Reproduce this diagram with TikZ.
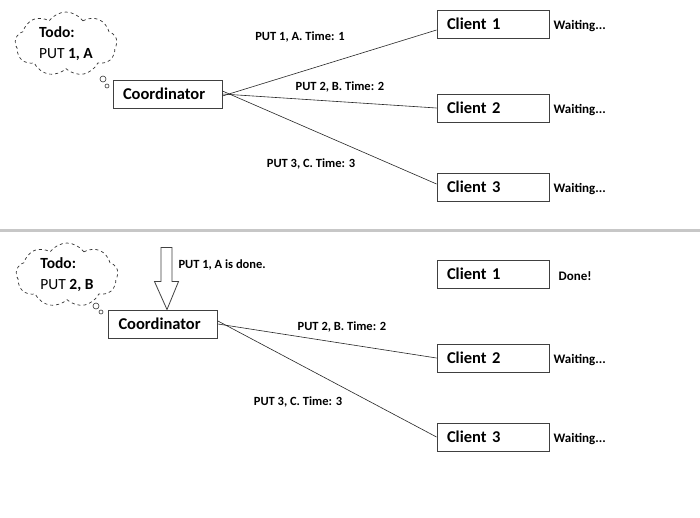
\documentclass[tikz,border=0pt]{standalone}
\usepackage{fontspec}
\setmainfont{Carlito}
\usetikzlibrary{shapes.symbols,positioning}
\begin{document}
\begin{tikzpicture}[x=1pt,y=-1pt,-,draw=black!80]
    \tikzstyle{box}=[draw=black!75,line width=0.9pt,minimum height=28pt,inner xsep=10pt,align=left,font=\fontsize{16.5}{18}\selectfont\bfseries]
    \tikzstyle{client}=[box,text width=92pt]
    \tikzstyle{todo}=[cloud,draw=black!80,dashed,line width=0.7pt,cloud puffs=9,cloud puff arc=110,aspect=1.6,minimum width=102pt,minimum height=64pt,align=left,inner sep=0pt,font=\fontsize{15.5}{21}\selectfont]
    \tikzstyle{bubble}=[circle,draw=black!80,line width=0.6pt,inner sep=0pt]
    \tikzstyle{msg}=[font=\fontsize{12.5}{14}\selectfont\bfseries]
    \tikzstyle{state}=[font=\fontsize{13}{15}\selectfont\bfseries,anchor=west,inner sep=1pt]
    \tikzstyle{link}=[black!85,line width=0.6pt]

    \useasboundingbox (0,0) rectangle (700,517);
    \fill[white] (0,0) rectangle (700,517);

    % Separator between the two steps
    \draw[black!22,line width=3pt] (0,230) -- (700,230);

    % Step 1: coordinator and its todo list
    \node[todo] (todo1) at (66,44) {\textbf{Todo:}\\PUT \textbf{1, A}};
    \node[bubble,minimum size=6pt] (b1) at (103,79) {};
    \node[bubble,minimum size=4pt] (b2) at (107,86) {};
    \node[box,text width=89pt] (coord1) at (167.5,94) {Coordinator};

    % Step 1: clients
    \foreach \n/\y in {1/24,2/108,3/187}
        \node[client] (c1-\n) at (493,\y) {Client \n};
    \foreach \n in {1,2,3}
        \node[state] (s1-\n) at ([xshift=3pt,yshift=-2pt]c1-\n.east) {Waiting...};

    % Step 1: requests
    \draw[link] ([yshift=-2pt]coord1.east) -- ([yshift=-6pt]c1-1.west);
    \draw[link] (coord1.east) -- (c1-2.west);
    \draw[link] ([yshift=3pt]coord1.east) -- ([yshift=3pt]c1-3.west);
    \node[msg] (m1-1) at (300,37) {PUT 1, A. Time: 1};
    \node[msg] (m1-2) at (340,87) {PUT 2, B. Time: 2};
    \node[msg] (m1-3) at (311,164) {PUT 3, C. Time: 3};

    % Step 2: coordinator and its todo list
    \node[todo] (todo2) at (67,275) {\textbf{Todo:}\\PUT \textbf{2, B}};
    \node[bubble,minimum size=6pt] (b3) at (96,306) {};
    \node[bubble,minimum size=4pt] (b4) at (101,312) {};
    \node[box,text width=89pt] (coord2) at (163,324) {Coordinator};

    % Step 2: acknowledgement arrow
    \draw[black!75,line width=0.8pt] ([xshift=4pt]coord2.north) -- ++(-12.5,-28) -- ++(6.5,0)
        -- ++(0,-34) -- ++(11,0) -- ++(0,34) -- ++(6.5,0) -- cycle;
    \node[msg,anchor=west] (ack) at (175,265) {PUT 1, A is done.};

    % Step 2: clients
    \foreach \n/\y in {1/274,2/358,3/437}
        \node[client] (c2-\n) at (493,\y) {Client \n};
    \node[state] (s2-1) at ([xshift=8pt,yshift=-2pt]c2-1.east) {Done!};
    \foreach \n in {2,3}
        \node[state] (s2-\n) at ([xshift=3pt,yshift=-2pt]c2-\n.east) {Waiting...};

    % Step 2: remaining requests
    \draw[link] (coord2.east) -- (c2-2.west);
    \draw[link] ([yshift=3pt]coord2.east) -- (c2-3.west);
    \node[msg] (m2-2) at (342,327) {PUT 2, B. Time: 2};
    \node[msg] (m2-3) at (298,402) {PUT 3, C. Time: 3};

\end{tikzpicture}
\end{document}
